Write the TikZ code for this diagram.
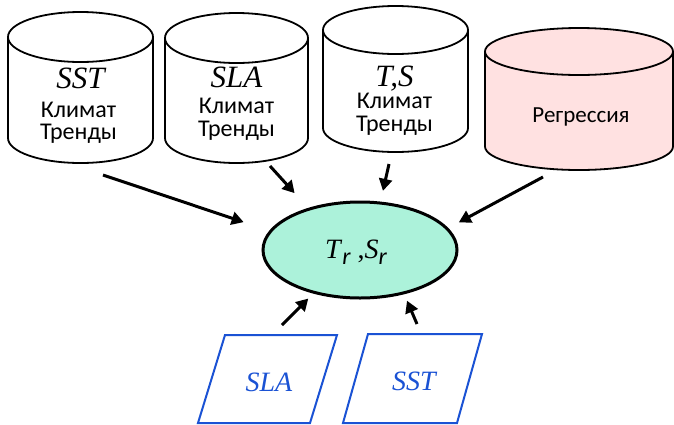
\documentclass[tikz,border=0pt]{standalone}
\usepackage{fontspec}
\setmainfont{Liberation Serif}
\newfontfamily\cyrfont{Carlito}
\usetikzlibrary{arrows.meta,shapes.geometric}

\definecolor{resgreen}{RGB}{172,242,218}
\definecolor{regpink}{RGB}{255,225,225}
\definecolor{obsblue}{RGB}{26,82,212}

% cylinder: centre x, x radius, top y, bottom y, y radius, fill
\newcommand\drumshape[6]{%
  \filldraw[drum, fill=#6] ({#1-#2},#3) -- ({#1-#2},#4)
    arc[start angle=180, end angle=360, x radius=#2pt, y radius=#5pt]
    -- ({#1+#2},#3)
    arc[start angle=0, end angle=180, x radius=#2pt, y radius=#5pt] -- cycle;
  \draw[drum] ({#1-#2},#3)
    arc[start angle=180, end angle=360, x radius=#2pt, y radius=#5pt];
}

\begin{document}
\begin{tikzpicture}[x=1pt, y=-1pt,
  drum/.style={draw=black, line width=1.8pt},
  varlbl/.style={font=\fontsize{31}{33}\selectfont\itshape, anchor=base, inner sep=0pt},
  cyrlbl/.style={font=\cyrfont\fontsize{24}{26}\selectfont, anchor=base, inner sep=0pt},
  arr/.style={line width=3pt, -{Triangle[length=12pt, width=13pt]}},
  para/.style={draw=obsblue, line width=2pt},
  obslbl/.style={font=\fontsize{28}{30}\selectfont\itshape, text=obsblue, anchor=base, inner sep=0pt}]
\useasboundingbox (0,0) rectangle (674,424);

% data stores
\drumshape{80.5}{72.5}{37}{138}{25}{white}
\drumshape{236.5}{71.5}{38}{138}{25}{white}
\drumshape{395.5}{72.5}{30}{128}{24}{white}
\drumshape{579}{94}{51.5}{146.5}{23.5}{regpink}

\node[varlbl] (sst) at (80.5,88) {SST};
\node[cyrlbl] (clim1) at (78.5,117) {Климат};
\node[cyrlbl] (trend1) at (78.5,139) {Тренды};

\node[varlbl] (sla) at (236.5,87) {SLA};
\node[cyrlbl] (clim2) at (236.5,113) {Климат};
\node[cyrlbl] (trend2) at (236.5,136) {Тренды};

\node[varlbl] (ts) at (394.5,86) {T,S};
\node[cyrlbl] (clim3) at (394.5,108) {Климат};
\node[cyrlbl] (trend3) at (394.5,131) {Тренды};

\node[cyrlbl, font=\cyrfont\fontsize{23}{25}\selectfont] (regr) at (581,122) {Регрессия};

% result
\node[ellipse, draw=black, line width=3pt, fill=resgreen,
      minimum width=194pt, minimum height=96pt, inner sep=0pt] (res) at (360,250) {};
\node[anchor=base, inner sep=0pt, font=\fontsize{28}{30}\selectfont] (restxt) at (356,258)
  {\textit{T}\raisebox{-6pt}{\cyrfont\itshape\fontsize{24}{26}\selectfont r} ,\textit{S}\raisebox{-6pt}{\cyrfont\itshape\fontsize{24}{26}\selectfont r}};

% observations
\draw[para] (225,335) -- (337,335) -- (310,423) -- (198,423) -- cycle;
\draw[para] (368,334) -- (482,334) -- (457,423) -- (343,423) -- cycle;
\node[obslbl] (osla) at (269,391) {SLA};
\node[obslbl] (osst) at (414,390) {SST};

% arrow tails
\coordinate (a1) at (103,175);
\coordinate (a2) at (270,166);
\coordinate (a3) at (389,164);
\coordinate (a4) at (543,177);
\coordinate (a5) at (282,325);
\coordinate (a6) at (417,324);

\draw[arr, shorten >=27pt] (a1) -- (res.168);
\draw[arr, shorten >=20pt] (a2) -- (res.141);
\draw[arr, shorten >=11pt] (a3) -- (res.67);
\draw[arr, shorten >=12pt] (a4) -- (res.14);
\draw[arr, shorten >=7pt] (a5) -- (res.223);
\draw[arr, shorten >=7pt] (a6) -- (res.315);
\end{tikzpicture}
\end{document}
